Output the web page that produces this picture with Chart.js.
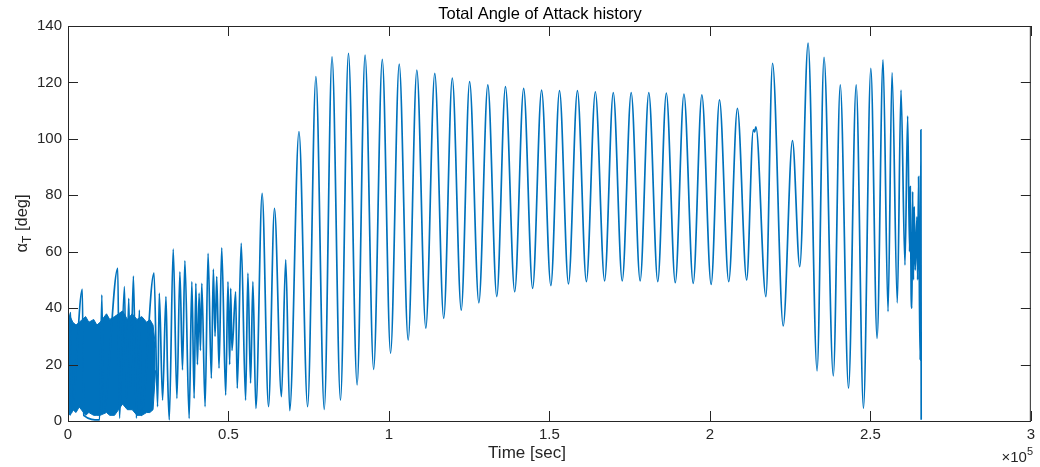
<!DOCTYPE html>
<html><head><meta charset="utf-8">
<script src="https://cdn.jsdelivr.net/npm/chart.js@4.4.0/dist/chart.umd.min.js"></script>
<style>html,body{margin:0;padding:0;background:#fff}#wrap{width:1040px;height:467px}</style>
</head><body><div id="wrap"><canvas id="c" width="1040" height="467"></canvas></div>
<script>
// ---- data (time in seconds, total angle of attack in degrees) ----
const timeSec = [0,837,1150,4467,4870,9833,10547,11074,15510,16038,17589,18210,18922,19450,20380,21311,22242,22862,
26802,27919,28445,29469,30524,31000,31547,32788,33935,34866,35673,36418,37752,38589,39303,39830,40326,40853,41256,41690,
42714,43645,44669,45290,45817,46345,47057,47895,49136,49849,50377,50687,51090,52238,52734,53975,55340,56054,56892,57605,
58536,60490,62475,64336,66507,67841,69082,71966,74665,77240,79845,82266,84902,87383,90082,92564,95231,97930,100505,
103203,105995,108693,111485,114277,117068,119736,122528,125134,128018,130810,133601,136300,139185,141977,144768,147560,
150445,153144,155936,158727,161519,164311,167196,169894,172686,175478,178270,180968,183760,186428,189220,191918,194803,
197502,200387,202992,205877,208576,211461,213540,213943,214347,217449,219528,222847,225732,228000,230603,233395,235566,
238451,240623,243197,245586,247850,250146,252100,253961,255512,256753,258397,259545,260786,261623,262220,262430,262710,
262957,263174,263422,263670,263980,264508,264725,265035,265283,265531,265748,265841];
const alphaT = [33,38.4,3,46.7,2,0.4,44.7,3,54.1,1,47.6,8,43.5,12,51.4,1,39.3,2,
52.4,5.1,45.3,7.4,44.1,18.1,0.4,60.9,8.0,52.9,18.1,56.8,0.9,49.4,8,48.8,20,45.3,25,48.8,
5.1,59.4,15.1,53.8,30,51.2,18.7,61.4,9.2,49.4,20,47.0,25,45.8,11.6,63.0,7.4,52.4,13.4,49.4,
4.5,80.7,5.1,75.4,8.6,57.1,3.7,102.6,5.1,122.1,4.1,129.1,7.4,130.3,12.8,129.7,18.3,128.2,24.0,
126.5,28.7,124.4,32.9,123.2,36.4,121.5,39.3,120.3,41.9,119.1,44.1,118.5,45.8,117.9,47.0,117.3,
48.0,117.1,48.6,117.1,49.4,116.7,49.7,116.4,49.7,116.4,49.7,116.4,49.4,116.2,49.0,115.9,48.8,
115.6,48.4,113.8,49.4,110.8,50.0,103.2,102.5,104.3,44.1,126.8,33.7,99.4,54.7,133.9,17.8,128.9,
16.0,119.1,11.6,119.1,4.5,125.0,29.3,128.0,38.8,123.5,41.9,117.3,55.3,108.1,60,83.1,45,
40.0,81.3,50,76.0,53.5,72.4,50,86.6,45,21.6,103.2,0.4];
// dense early oscillation: upper / lower envelope of the band
const bandTime  = [0,700,1500,2500,3500,5500,6500,8000,9000,10000,12000,13000,14500,17000,18500,20000,21500,23000,24500,25500,26500,27300];
const bandUpper = [35,37,35,34,35,37,35,36,34,35,38,36,37,39,36,38,36,37,35,36,34,26];
const bandLower = [3,2,4,3,5,2,3,2,2,2,3,2,2,6,4,4,2,2,3,3,4,18];
// axes
const xTickValues = [0,50000,100000,150000,200000,250000,300000];
const xTickLabels = ['0','0.5','1','1.5','2','2.5','3'];
const yTickValues = [0,20,40,60,80,100,120,140];

const BLUE = '#0072BD';
const AX = '#262626';
const FONT = '"Liberation Sans", Arial, Helvetica, sans-serif';

const decor = {
  id: 'decor',
  afterDatasetsDraw(chart) {
    const {ctx, chartArea: a, scales: {x, y}} = chart;
    ctx.save();
    ctx.strokeStyle = AX; ctx.lineWidth = 1;
    ctx.strokeRect(a.left + 0.5, a.top + 0.5, a.right - a.left - 1, a.bottom - a.top);
    ctx.beginPath();
    xTickValues.forEach(v => {
      const px = Math.round(x.getPixelForValue(v)) + 0.5;
      ctx.moveTo(px, a.bottom); ctx.lineTo(px, a.bottom - 10);
      ctx.moveTo(px, a.top); ctx.lineTo(px, a.top + 10);
    });
    yTickValues.forEach(v => {
      const py = Math.round(y.getPixelForValue(v)) + 0.5;
      ctx.moveTo(a.left, py); ctx.lineTo(a.left + 10, py);
      ctx.moveTo(a.right, py); ctx.lineTo(a.right - 10, py);
    });
    ctx.stroke();
    // title
    ctx.fillStyle = '#000';
    ctx.font = '16.5px ' + FONT;
    ctx.textAlign = 'center'; ctx.textBaseline = 'middle';
    ctx.fillText('Total Angle of Attack history', 540, 14);
    // x label
    ctx.fillStyle = AX;
    ctx.font = '17px ' + FONT;
    ctx.fillText('Time [sec]', 527, 453);
    // exponent
    ctx.font = '15px ' + FONT;
    ctx.textAlign = 'left'; ctx.textBaseline = 'alphabetic';
    const w1 = ctx.measureText('\u00d710').width;
    ctx.font = '11px ' + FONT;
    const w2 = ctx.measureText('5').width;
    const ex = 1033 - w1 - w2;
    ctx.font = '15px ' + FONT;
    ctx.fillText('\u00d710', ex, 462);
    ctx.font = '11px ' + FONT;
    ctx.fillText('5', ex + w1, 455);
    // y label
    ctx.save();
    ctx.translate(22, (a.top + a.bottom) / 2);
    ctx.rotate(-Math.PI / 2);
    ctx.font = '16.5px ' + FONT;
    const a1 = ctx.measureText('\u03b1').width;
    const a3 = ctx.measureText(' [deg]').width;
    ctx.font = '12px ' + FONT;
    const a2 = ctx.measureText('T').width;
    let sx = -(a1 + a2 + a3) / 2;
    ctx.textAlign = 'left'; ctx.textBaseline = 'alphabetic';
    ctx.font = '16.5px ' + FONT;
    ctx.fillText('\u03b1', sx, 5);
    ctx.font = '12px ' + FONT;
    ctx.fillText('T', sx + a1, 9);
    ctx.font = '16.5px ' + FONT;
    ctx.fillText(' [deg]', sx + a1 + a2, 5);
    ctx.restore();
    ctx.restore();
  }
};

new Chart(document.getElementById('c'), {
  type: 'line',
  data: {
    datasets: [
      { data: bandTime.map((t, i) => ({x: t, y: bandUpper[i]})), borderWidth: 1, borderColor: BLUE,
        backgroundColor: BLUE, pointRadius: 0, fill: '+1', order: 2 },
      { data: bandTime.map((t, i) => ({x: t, y: bandLower[i]})), borderWidth: 1, borderColor: BLUE,
        pointRadius: 0, fill: false, order: 2 },
      { data: timeSec.map((t, i) => ({x: t, y: alphaT[i]})), borderColor: BLUE, borderWidth: 1.7,
        pointRadius: 0, fill: false, cubicInterpolationMode: 'monotone', order: 1 }
    ]
  },
  options: {
    responsive: false, animation: false, devicePixelRatio: 1,
    layout: { padding: { top: 26, right: 6, bottom: 0, left: 0 } },
    plugins: { legend: { display: false }, tooltip: { enabled: false }, title: { display: false } },
    scales: {
      x: { type: 'linear', min: 0, max: 300000,
        grid: { display: false, drawTicks: false }, border: { display: false },
        afterBuildTicks(s) { s.ticks = xTickValues.map(v => ({value: v})); },
        ticks: { padding: 5, color: AX, font: { family: FONT, size: 15 }, maxRotation: 0,
          callback: (v) => xTickLabels[xTickValues.indexOf(v)] },
        afterFit(s) { s.height = 46; } },
      y: { min: 0, max: 140,
        grid: { display: false, drawTicks: false }, border: { display: false },
        afterBuildTicks(s) { s.ticks = yTickValues.map(v => ({value: v})); },
        ticks: { padding: 6, color: AX, font: { family: FONT, size: 15 } },
        afterFit(s) { s.width = 68; } }
    }
  },
  plugins: [decor]
});
</script></body></html>
